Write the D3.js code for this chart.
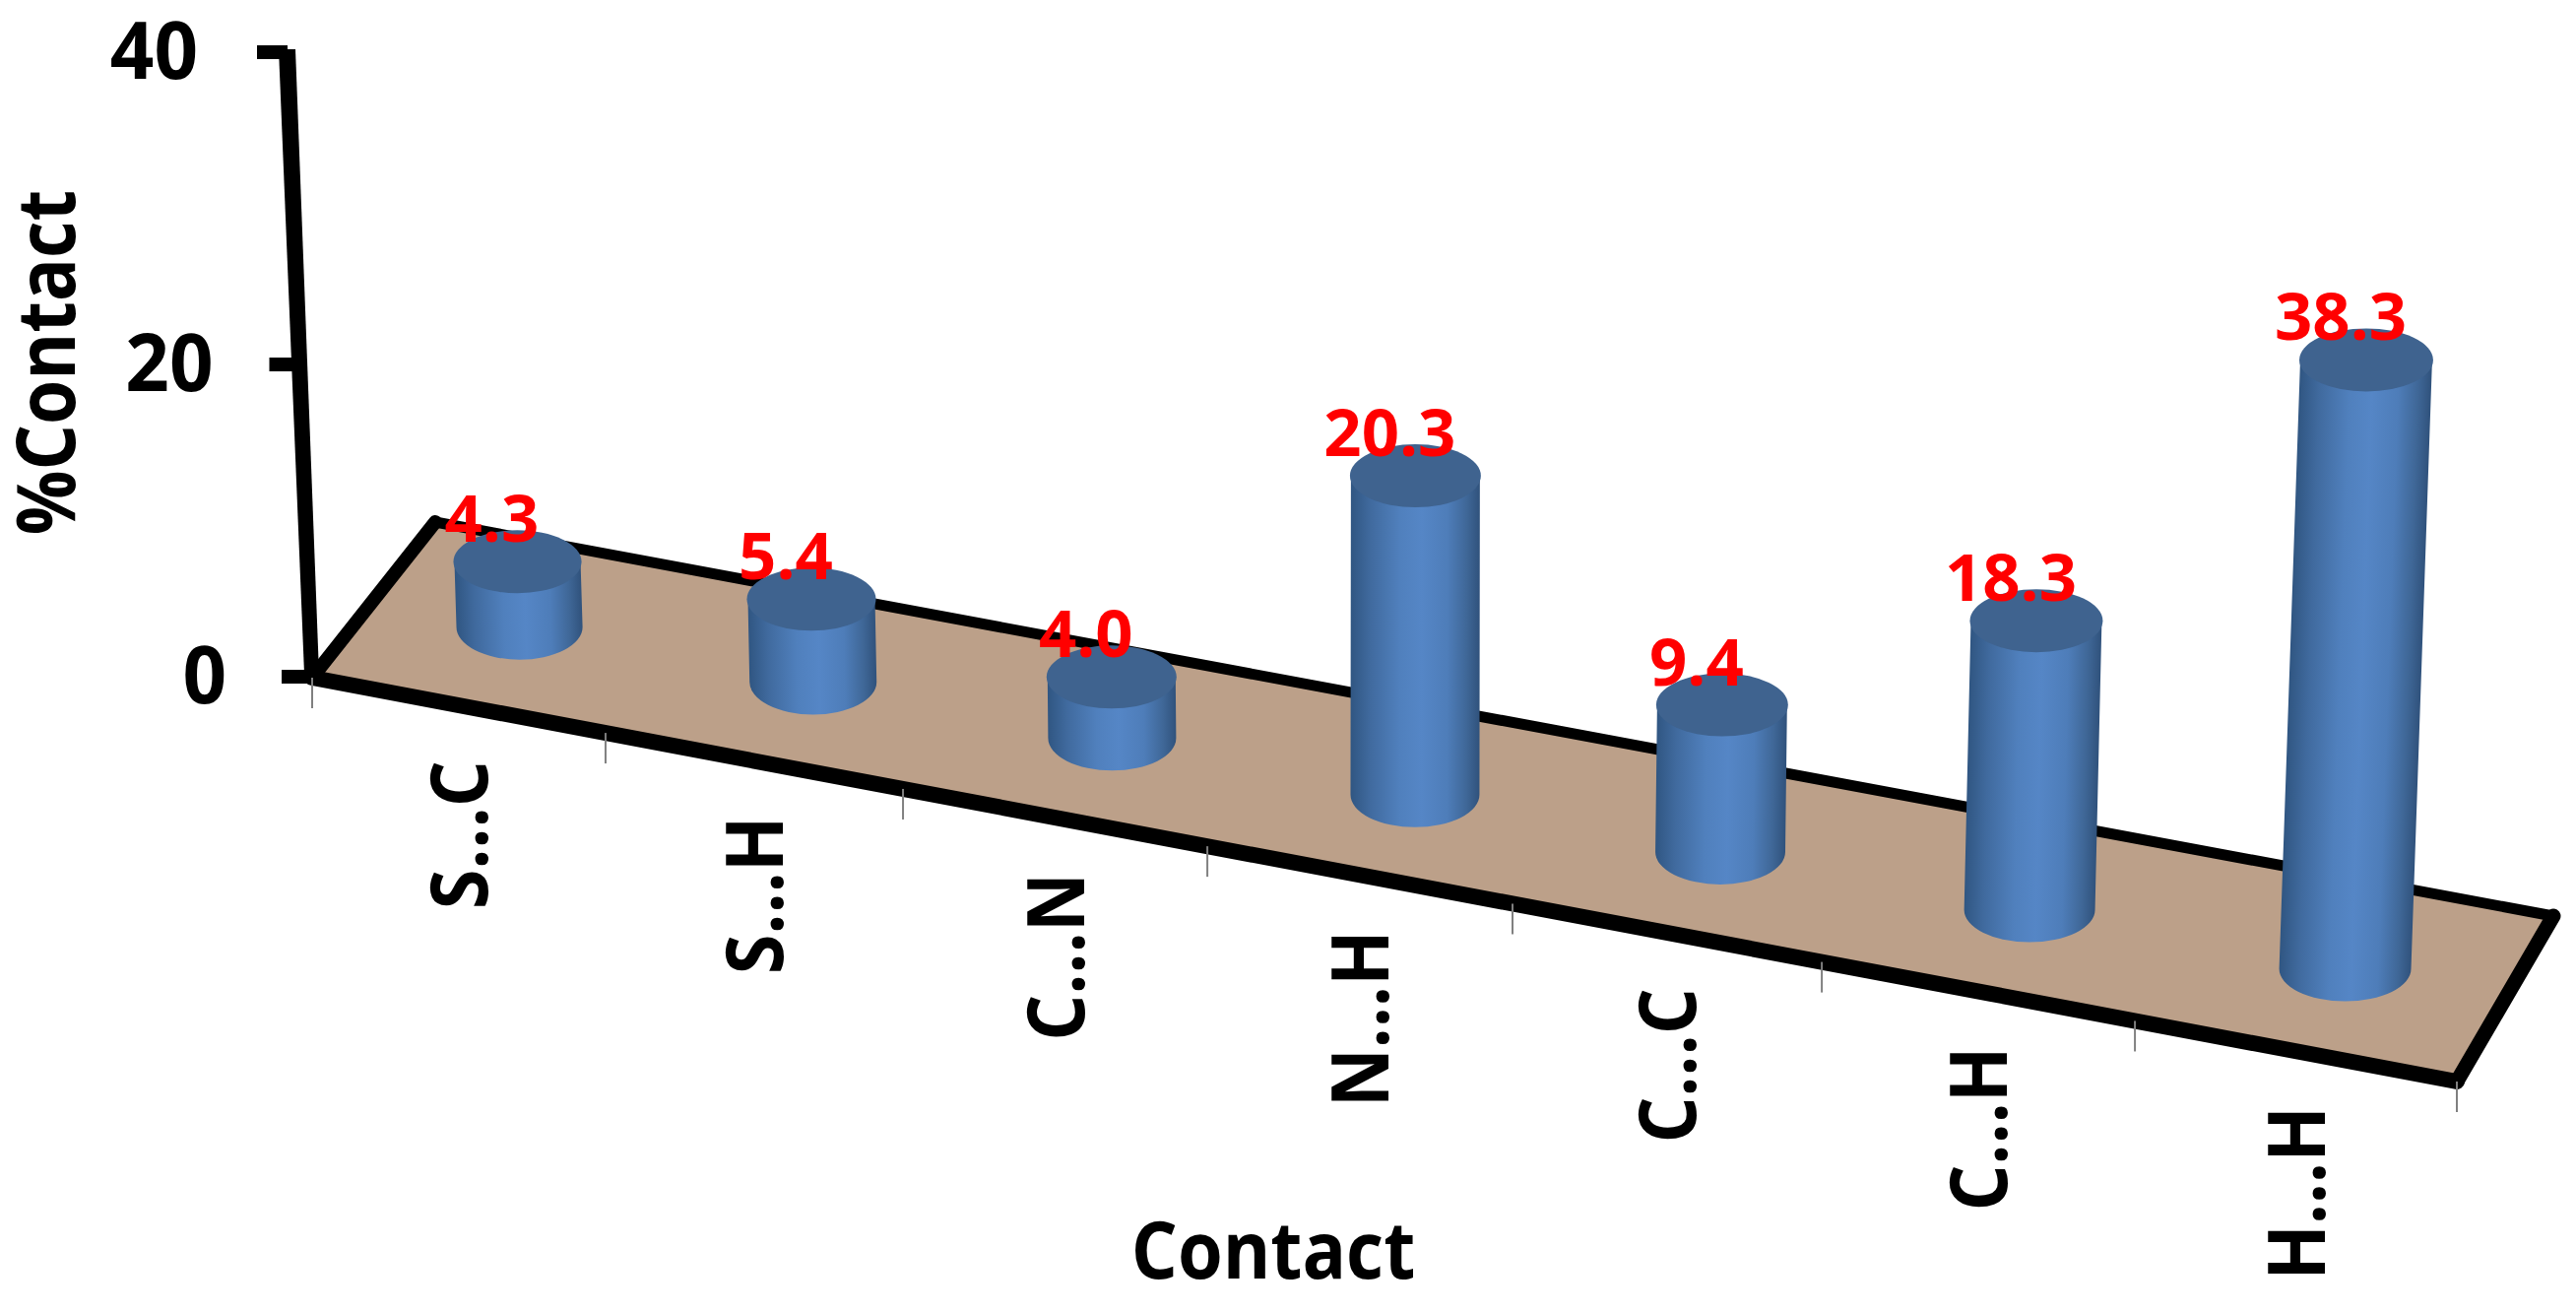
<!DOCTYPE html>
<html><head><meta charset="utf-8">
<script src="https://cdnjs.cloudflare.com/ajax/libs/d3/7.8.5/d3.min.js"></script>
<style>html,body{margin:0;padding:0;background:#fff}svg{display:block}text{font-family:"Open Sans";font-weight:700}</style>
</head><body><svg id="c" width="2616" height="1333"></svg>
<script>
const categories = ["S...C","S...H","C...N","N...H","C...C","C...H","H...H"];
const values = [4.3,5.4,4.0,20.3,9.4,18.3,38.3];
const valueTicks = [0,20,40];
const yTitle = "%Contact";
const xTitle = "Contact";

const svg = d3.select("#c");
const FL=[317,688], FR=[2495,1098], BR=[2593,930], BL=[442,530];
const lerp=(a,b,t)=>[a[0]+(b[0]-a[0])*t,a[1]+(b[1]-a[1])*t];
const slot = d3.scaleLinear().domain(d3.range(8)).range([0,.1368,.2755,.4174,.5597,.7039,.8499,1]);
const floorPt=(s,depth)=>lerp(lerp(FL,FR,slot(s)),lerp(BL,BR,slot(s)),depth);
const h = d3.scaleLinear().domain([0,40]).range([0,635]);
const heightAt=(v,x)=>h(v)*(1+(x-317)/2064*.02);
const lean=x=>(x-1400)*3.53e-5;
const yAxisBottom=[317,684], yAxisTop=[292,50];
const axisPt=v=>lerp(yAxisBottom,yAxisTop,h(v)/h(40));

svg.append("polygon").attr("points",[FL,FR,BR,BL].map(p=>p.join(",")).join(" ")).attr("fill","#bca089");
const line=(a,b,w)=>svg.append("line").attr("x1",a[0]).attr("y1",a[1]).attr("x2",b[0]).attr("y2",b[1]).attr("stroke","#000").attr("stroke-width",w).attr("stroke-linecap","round");
line(BL,BR,11);line(BL,FL,14);line(BR,FR,15);line(FL,FR,16);

svg.append("polygon").attr("points",[[yAxisTop[0]-9,yAxisTop[1]],[yAxisTop[0]+8,yAxisTop[1]],[yAxisBottom[0]+7,yAxisBottom[1]],[yAxisBottom[0]-8,yAxisBottom[1]]].map(p=>p.join(",")).join(" ")).attr("fill","#000");
const tickLabelGap={0:87,20:88,40:91};
valueTicks.forEach(v=>{
  const p=axisPt(v), y=p[1]+3;
  svg.append("rect").attr("x",p[0]-31).attr("y",y-7).attr("width",31).attr("height",14).attr("fill","#000");
  svg.append("text").attr("text-anchor","end").attr("font-size",78)
    .attr("transform",`translate(${p[0]-tickLabelGap[v]},${y+27}) scale(1.0,1.03)`).text(v);
});

d3.range(8).forEach(s=>{
  const p=floorPt(s,0);
  svg.append("line").attr("x1",p[0]).attr("x2",p[0]).attr("y1",p[1]).attr("y2",p[1]+31).attr("stroke","#808080").attr("stroke-width",2);
});

categories.forEach((c,i)=>{
  const p=floorPt(i+.5,0);
  svg.append("text").attr("text-anchor","end").attr("font-size",74)
    .attr("transform",`translate(${p[0]+29},${p[1]+56}) rotate(-90) scale(1,1.1)`).text(c);
});

const defs=svg.append("defs");
const rxAt=x=>64+3*(x-500)/1900, ry=33;
values.forEach((v,i)=>{
  const b=floorPt(i+.5,.5);
  const H=heightAt(v,b[0])-2;
  const rx=rxAt(b[0]);
  const t=[b[0]+H*lean(b[0]),b[1]-H];
  const len=Math.hypot(H,t[0]-b[0])||1, nx=H/len, ny=(t[0]-b[0])/len;
  const id="g"+i;
  const g=defs.append("linearGradient").attr("id",id).attr("gradientUnits","userSpaceOnUse")
    .attr("x1",b[0]-rx*nx).attr("y1",b[1]-rx*ny).attr("x2",b[0]+rx*nx).attr("y2",b[1]+rx*ny);
  [[0,"#305682"],[.15,"#406a9e"],[.38,"#5080bd"],[.55,"#5586c6"],[.75,"#4e7db9"],[.9,"#3f6797"],[1,"#30527c"]]
    .forEach(s=>g.append("stop").attr("offset",s[0]).attr("stop-color",s[1]));
  svg.append("path").attr("fill",`url(#${id})`)
    .attr("d",`M${t[0]-rx},${t[1]}L${b[0]-rx},${b[1]}A${rx},${ry} 0 0 0 ${b[0]+rx},${b[1]}L${t[0]+rx},${t[1]}Z`);
  svg.append("ellipse").attr("cx",t[0]).attr("cy",t[1]).attr("rx",rx+1).attr("ry",ry-1).attr("fill","#3f638f");
});
values.forEach((v,i)=>{
  const b=floorPt(i+.5,.5), H=heightAt(v,b[0]), tx=b[0]+H*lean(b[0]), ty=b[1]-H;
  svg.append("text").attr("text-anchor","middle").attr("font-size",67).attr("fill","#ff0000")
    .attr("x",tx-26).attr("y",ty-18).text(v.toFixed(1));
});

svg.append("text").attr("text-anchor","middle").attr("font-size",73)
  .attr("transform","translate(76,368) rotate(-90) scale(1,1.12)").text(yTitle);
svg.append("text").attr("text-anchor","middle").attr("font-size",74)
  .attr("transform","translate(1293,1298) scale(1,1.08)").text(xTitle);
</script></body></html>
